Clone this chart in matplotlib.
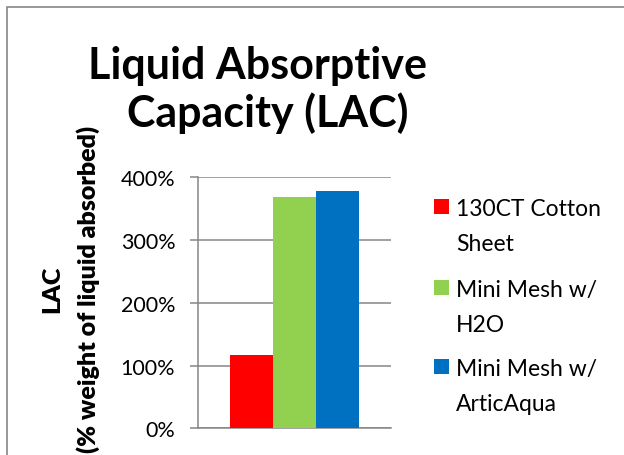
import matplotlib
matplotlib.use("Agg")
import matplotlib.pyplot as plt
from matplotlib.patches import Rectangle
from matplotlib.ticker import PercentFormatter

# ---------- DATA ----------
series_labels = ["130CT Cotton\nSheet", "Mini Mesh w/\nH2O", "Mini Mesh w/\nArticAqua"]
lac_values = [117, 369, 378]
bar_colors = ["#FF0000", "#92D050", "#0070C0"]
y_ticks = [0, 100, 200, 300, 400]
title_lines = ["Liquid Absorptive", "Capacity (LAC)"]
y_label_lines = ["LAC", "(% weight of liquid absorbed)"]

plt.rcParams["font.family"] = ["Lato", "DejaVu Sans"]

W, H = 624, 456
fig = plt.figure(figsize=(W / 100, H / 100), dpi=100)
grid_col = "#868686"

# outer chart border (only left/top visible in the crop)
fig.patches.append(Rectangle((7 / W, -0.1), 1.2, 1 - 8 / H + 0.1, transform=fig.transFigure,
                             fill=False, edgecolor=grid_col, linewidth=1.2))

ax = fig.add_axes([197.5 / W, 1 - 429.3 / H, 193.5 / W, 251 / H])

# ---------- BARS ----------
w = 0.222
for i, (val, col) in enumerate(zip(lac_values, bar_colors)):
    ax.bar((i - 1) * w, val, width=w, color=col, zorder=3)

ax.set_xlim(-0.5, 0.5)
ax.set_ylim(0, 400)
ax.set_yticks(y_ticks)
ax.yaxis.set_major_formatter(PercentFormatter(decimals=0))
ax.set_xticks([])
ax.grid(axis="y", color=grid_col, linewidth=1.1, zorder=0)
for s in ["top", "right"]:
    ax.spines[s].set_visible(False)
for s in ["left", "bottom"]:
    ax.spines[s].set_color(grid_col)
    ax.spines[s].set_linewidth(1.1)
ax.tick_params(axis="y", length=6, width=1.1, color=grid_col, pad=10, labelsize=15.5)

# ---------- TITLE ----------
fig.text(257 / W, 1 - 79 / H, title_lines[0], ha="center", va="baseline",
         fontsize=31, fontweight="bold")
fig.text(268 / W, 1 - 127 / H, title_lines[1], ha="center", va="baseline",
         fontsize=31, fontweight="bold")

# ---------- Y LABEL ----------
for x_px, line in zip([52, 88], y_label_lines):
    fig.text(x_px / W, 1 - 289 / H, line, rotation=90, ha="center", va="center",
             fontsize=18, fontweight="heavy")

# ---------- LEGEND ----------
entry_baselines = [216, 297, 376]
for lab, col, base in zip(series_labels, bar_colors, entry_baselines):
    fig.patches.append(Rectangle((434 / W, 1 - (base - 1) / H), 15 / W, 15 / H,
                                 transform=fig.transFigure, facecolor=col, edgecolor="none"))
    for j, line in enumerate(lab.split("\n")):
        fig.text(456 / W, 1 - (base + 35 * j) / H, line, ha="left", va="baseline",
                 fontsize=16.5)

fig.savefig("out.png", dpi=100)
